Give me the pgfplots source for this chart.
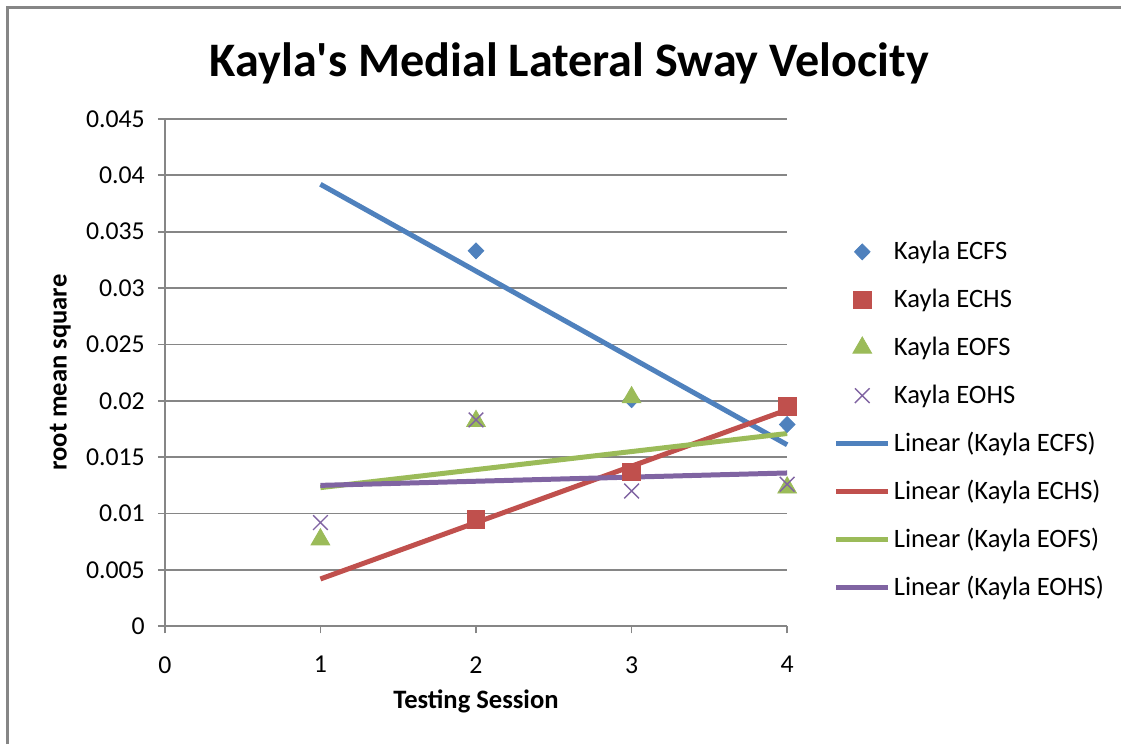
\documentclass[border=0pt]{standalone}
\usepackage{pgfplots}
\pgfplotsset{compat=1.18}
\usepackage{fontspec}
\setmainfont{Carlito}

\definecolor{xlblue}{HTML}{4F81BD}
\definecolor{xlred}{HTML}{C0504D}
\definecolor{xlgreen}{HTML}{9BBB59}
\definecolor{xlpurple}{HTML}{8064A2}
\definecolor{xlgrid}{RGB}{134,134,134}

\begin{document}
\begin{tikzpicture}
% page frame (1 px of the reference = 0.5pt)
\path (0,0) rectangle (561pt,372.5pt);
\draw[xlgrid, line width=1.2pt] (3.75pt,0) -- (3.75pt,368.75pt) -- (561pt,368.75pt);
\node[font=\bfseries\fontsize{24.1}{28}\selectfont] at (285pt,341pt) {Kayla\textquotesingle s Medial Lateral Sway Velocity};

\begin{axis}[
    at={(82.5pt,59pt)}, anchor=origin,
    scale only axis,
    width=311.5pt, height=254pt,
    xmin=0, xmax=4, ymin=0, ymax=0.045,
    xtick={0,1,2,3,4},
    ytick={0,0.005,0.01,0.015,0.02,0.025,0.03,0.035,0.04,0.045},
    yticklabels={0,0.005,0.01,0.015,0.02,0.025,0.03,0.035,0.04,0.045},
    scaled y ticks=false,
    axis x line*=bottom, axis y line*=left,
    axis line style={xlgrid, line width=0.9pt},
    tick align=outside, major tick length=3.5pt,
    tick style={xlgrid, line width=0.9pt},
    ymajorgrids, grid style={xlgrid, line width=0.9pt},
    /pgf/number format/assume math mode=true,
    ticklabel style={font=\fontsize{12.9}{15}\selectfont},
    yticklabel style={xshift=-3pt},
    xticklabel style={yshift=-8pt},
    xlabel={\bfseries Testing Session},
    ylabel={\bfseries root mean square},
    label style={font=\fontsize{13.3}{16}\selectfont},
    xlabel style={at={(axis description cs:0.5,-0.148)}, anchor=center},
    ylabel style={at={(axis description cs:-0.168,0.5)}, anchor=center},
    legend style={draw=none, fill=none, at={(1.074,0.786)}, anchor=north west,
        font=\fontsize{13.3}{15}\selectfont, inner sep=0pt,
        nodes={minimum height=24pt, inner sep=1.5pt}},
    legend cell align=left,
    legend image code/.code={\draw[mark repeat=2,mark phase=2,#1] plot coordinates {(0cm,0cm) (0.46cm,0cm) (0.92cm,0cm)};},
    clip=false,
]
% measured points
\addplot[only marks, mark=diamond*, mark size=4pt, mark options={xscale=1.3}, color=xlblue]
    coordinates {(2,0.0333) (3,0.0201) (4,0.0179)};
\addlegendentry{Kayla ECFS}
\addplot[only marks, mark=square*, mark size=4.4pt, color=xlred]
    coordinates {(2,0.0095) (3,0.0137) (4,0.0195)};
\addlegendentry{Kayla ECHS}
\addplot[only marks, mark=triangle*, mark size=5.4pt, color=xlgreen]
    coordinates {(1,0.0077) (2,0.0182) (3,0.0203) (4,0.0123)};
\addlegendentry{Kayla EOFS}
\addplot[only marks, mark=x, mark size=5.2pt, color=xlpurple, line width=0.7pt]
    coordinates {(1,0.0092) (2,0.0183) (3,0.0120) (4,0.0126)};
\addlegendentry{Kayla EOHS}
% linear trend lines
\addplot[xlblue, line width=2.5pt] coordinates {(1,0.0392) (4,0.0161)};
\addlegendentry{Linear (Kayla ECFS)}
\addplot[xlred, line width=2.5pt] coordinates {(1,0.0042) (4,0.0192)};
\addlegendentry{Linear (Kayla ECHS)}
\addplot[xlgreen, line width=2.5pt] coordinates {(1,0.0123) (4,0.0171)};
\addlegendentry{Linear (Kayla EOFS)}
\addplot[xlpurple, line width=2.5pt] coordinates {(1,0.0125) (4,0.0136)};
\addlegendentry{Linear (Kayla EOHS)}
\end{axis}
\end{tikzpicture}
\end{document}
